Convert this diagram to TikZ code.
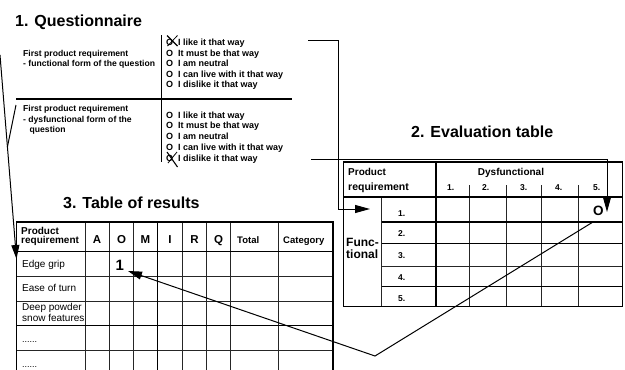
\documentclass[tikz,border=0pt]{standalone}
\usepackage{fontspec}
\setmainfont{Liberation Sans}
\usetikzlibrary{arrows.meta}
\begin{document}
\begin{tikzpicture}[x=1pt,y=-1pt,
  txt/.style={inner sep=0pt,anchor=base west},
  ctxt/.style={inner sep=0pt,anchor=base},
  title/.style={txt,font=\fontsize{16}{18}\selectfont\bfseries},
  qtext/.style={txt,font=\fontsize{8.6}{10}\selectfont\bfseries},
  opt/.style={txt,font=\fontsize{9}{10}\selectfont\bfseries},
  cell/.style={txt,font=\fontsize{10}{12}\selectfont},
  head/.style={txt,font=\fontsize{10}{12}\selectfont\bfseries},
  num/.style={font=\fontsize{8.5}{10}\selectfont\bfseries},
  letter/.style={ctxt,font=\fontsize{11.5}{13}\selectfont\bfseries},
  thin/.style={line width=0.7pt,draw=black!85},
  heavy/.style={line width=1.1pt,draw=black},
  conn/.style={line width=1pt},
  tipA/.style={-{Triangle[length=15pt,width=8pt]}},
  tipB/.style={-{Triangle[length=14pt,width=8pt]}}
]
\useasboundingbox (0,0) rectangle (625,370);

% ---------------- 1. Questionnaire ----------------
\node[title] (t1) at (15,26) {1. Questionnaire};
\draw[line width=0.8pt] (161,35) -- (161,162);
\draw[line width=1.1pt] (16,99) -- (292,99);

\node[qtext] (f1a) at (23,56) {First product requirement};
\node[qtext] (f1b) at (23,66.5) {- functional form of the question};
\node[qtext] (d1a) at (23,111.5) {First product requirement};
\node[qtext] (d1b) at (23,122) {- dysfunctional form of the};
\node[qtext] (d1c) at (29.5,132) {question};

% answer options, functional form
\foreach \y/\t [count=\i] in {45/I like it that way,56/It must be that way,66/I am neutral,77/I can live with it that way,87/I dislike it that way}{
  \node[opt] (fo\i) at (166,\y) {O};
  \node[opt] (ft\i) at (178,\y) {\t};
}
% answer options, dysfunctional form
\foreach \y/\t [count=\i] in {118/I like it that way,128/It must be that way,139/I am neutral,150/I can live with it that way,161/I dislike it that way}{
  \node[opt] (do\i) at (166,\y) {O};
  \node[opt] (dt\i) at (178,\y) {\t};
}
% ticked answers
\draw[line width=1.1pt] (167,35.5) -- (177.5,46);
\draw[line width=0.8pt] (177.5,35.5) -- (167.5,46);
\draw[line width=1.1pt] (167,152) -- (177.5,167);
\draw[line width=0.8pt] (177,152) -- (168,163);

% ---------------- 2. Evaluation table ----------------
\node[title] (t2) at (411,137) {2. Evaluation table};

\draw[thin] (381.5,197) -- (381.5,306.5);
\foreach \x in {469,506,541,578}{\draw[thin] (\x,185) -- (\x,306.5);}
\draw[thin] (381.5,266) -- (622.5,266);
\foreach \y in {222,243.5,286.5}{\draw[heavy] (381.5,\y) -- (622.5,\y);}
\draw[heavy] (343.5,197) -- (622.5,197);
\draw[heavy] (436,162) -- (436,306.5);
\draw[heavy] (343.5,162) rectangle (622.5,306.5);

\node[txt,font=\fontsize{10}{12}\selectfont\bfseries] (ep1) at (348,175.5) {Product};
\node[txt,font=\fontsize{10.5}{12}\selectfont\bfseries] (ep2) at (348,190) {requirement};
\node[ctxt,font=\fontsize{10}{12}\selectfont\bfseries] (edys) at (511,175.5) {Dysfunctional};
\foreach \x [count=\i] in {447,482,520,555,593}{
  \node[txt,num] (dc\i) at (\x,190) {\i.};
}
\foreach \y [count=\i] in {216,236,258,280,301.5}{
  \node[txt,num] (fr\i) at (398,\y) {\i.};
}
\node[txt,font=\fontsize{12}{14}\selectfont\bfseries] (fu1) at (346,246) {Func-};
\node[txt,font=\fontsize{12}{14}\selectfont\bfseries] (fu2) at (346,258.5) {tional};
\node[txt,font=\fontsize{13.5}{15}\selectfont\bfseries] (mark) at (593,215) {O};

% ---------------- 3. Table of results ----------------
\node[title] (t3) at (63,208) {3. Table of results};

\foreach \x in {85,109,133,182,206.5,230.5,278.5}{\draw[thin] (\x,222) -- (\x,375);}
\foreach \y in {276,301,350.5}{\draw[thin] (16.5,\y) -- (333,\y);}
\draw[heavy] (157.5,222) -- (157.5,375);
\draw[heavy] (16.5,251.5) -- (333,251.5);
\draw[heavy] (16.5,325.5) -- (333,325.5);
\draw[heavy] (16.5,375) -- (16.5,222) -- (333,222) -- (333,375);

\node[head] (rp1) at (21,234) {Product};
\node[head] (rp2) at (21,243.5) {requirement};
\foreach \x/\l in {97/A,121.5/O,145.5/M,170/I,194.5/R,218.5/Q}{
  \node[letter] (h\l) at (\x,243.5) {\l};
}
\node[txt,font=\fontsize{9.5}{11}\selectfont\bfseries] (htot) at (237,243) {Total};
\node[txt,font=\fontsize{9.5}{11}\selectfont\bfseries] (hcat) at (283,243) {Category};

\node[cell] (r1) at (22,267) {Edge grip};
\node[cell] (r2) at (22,291) {Ease of turn};
\node[cell] (r3a) at (22,310.5) {Deep powder};
\node[cell] (r3b) at (22,321.5) {snow features};
\node[txt,font=\fontsize{9}{10}\selectfont] (r4) at (22,342.5) {......};
\node[txt,font=\fontsize{9}{10}\selectfont] (r5) at (22,367.5) {......};
\node[txt,font=\fontsize{15}{17}\selectfont\bfseries] (one) at (115.5,270) {1};

% ---------------- connectors ----------------
\coordinate (qa) at (308,40);
\coordinate (qa1) at (338,40);
\coordinate (qa2) at (338,209);
\coordinate (ea) at (370,209);
\draw[conn,tipA] (qa) -- (qa1) -- (qa2) -- (ea);

\coordinate (qb) at (311,159);
\coordinate (qb1) at (607,159);
\coordinate (eb) at (607,212);
\draw[conn,tipA] (qb) -- (qb1) -- (eb);

\coordinate (cs) at (593,222);
\coordinate (cv) at (375,356);
\coordinate (ct) at (128,271);
\draw[conn,tipB] (cs) -- (cv) -- (ct);

\coordinate (ls) at (0,55);
\coordinate (lj) at (7.4,147);
\coordinate (lb) at (16,105);
\coordinate (lt) at (16.5,259);
\draw[conn,tipB] (ls) -- (lt);
\draw[conn] (lb) -- (lj);
\end{tikzpicture}
\end{document}
